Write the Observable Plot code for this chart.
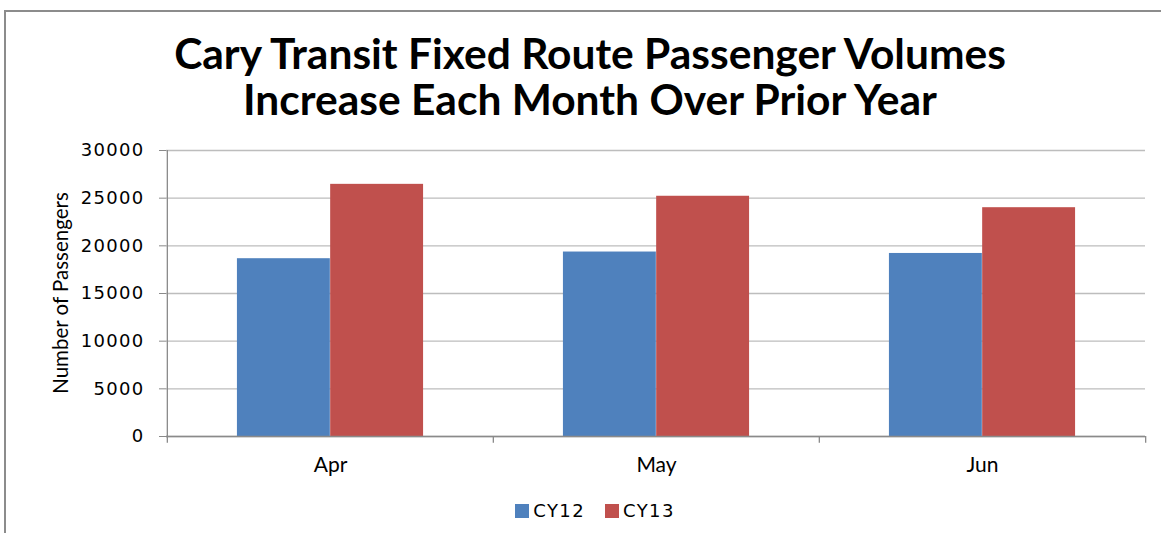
<!DOCTYPE html>
<html><head><meta charset="utf-8">
<script src="https://cdn.jsdelivr.net/npm/d3@7"></script>
<script src="https://cdn.jsdelivr.net/npm/@observablehq/plot@0.6"></script>
<style>
body{margin:0;background:#fff;}
#wrap{position:relative;width:1161px;height:533px;overflow:hidden;background:#fff;}
#frame{position:absolute;left:4px;top:10px;width:1300px;height:700px;border-left:2px solid #8c8c8c;border-top:2px solid #8c8c8c;}
#title{position:absolute;left:0;width:1180px;top:30px;text-align:center;font-family:Lato,sans-serif;font-weight:bold;font-size:42.5px;line-height:46px;color:#000;}
#chart{position:absolute;left:0;top:130px;}
#ylabel{position:absolute;left:60px;top:293px;transform:translate(-50%,-50%) rotate(-90deg);white-space:nowrap;font-family:Lato,sans-serif;font-size:20.5px;color:#000;}
#legend{position:absolute;top:500px;left:0;width:1190px;display:flex;justify-content:center;align-items:center;font-family:"DejaVu Sans",sans-serif;font-size:18px;letter-spacing:1.4px;color:#000;}
#legend .sw{display:inline-block;width:14px;height:14px;margin-right:4px;}
#legend .it{display:flex;align-items:center;margin:0 10px;}
#chart [aria-label="y-axis tick label"] text{letter-spacing:1.3px;}
</style>
</head><body>
<div id="wrap">
  <div id="frame"></div>
  <div id="title">Cary Transit Fixed Route Passenger Volumes<br>Increase Each Month Over Prior Year</div>
  <div id="chart"></div>
  <div id="ylabel">Number of Passengers</div>
  <div id="legend"></div>
</div>
<script>
const months = ["Apr", "May", "Jun"];
const seriesNames = ["CY12", "CY13"];
const cy12 = [18650, 19350, 19200];
const cy13 = [26450, 25200, 24000];
const yTicks = [0, 5000, 10000, 15000, 20000, 25000, 30000];
const colors = ["#4f81bd", "#c0504d"];

const rows = months.flatMap((m, i) => [
  {month: m, series: "CY12", value: cy12[i]},
  {month: m, series: "CY13", value: cy13[i]}
]);

const W = 1161, H = 350, mL = 166, mR = 16, mT = 20, mB = 44;
const step = (W - mL - mR) / months.length;
const b = step / 3.5; // Excel gap width 150%

const plot = Plot.plot({
  width: W, height: H,
  marginLeft: mL, marginRight: mR, marginTop: mT, marginBottom: mB,
  x: {type: "band", domain: months, padding: 0, label: null},
  y: {domain: [0, 30000], label: null},
  style: {background: "transparent"},
  marks: [
    Plot.gridY(yTicks, {stroke: "#bdbdbd", strokeOpacity: 1, strokeWidth: 1.3}),
    Plot.barY(rows.filter(d => d.series === "CY12"), {x: "month", y: "value", fill: colors[0], insetLeft: 0.75 * b, insetRight: step - 1.75 * b}),
    Plot.barY(rows.filter(d => d.series === "CY13"), {x: "month", y: "value", fill: colors[1], insetLeft: 1.75 * b, insetRight: 0.75 * b}),
    Plot.ruleY([0], {stroke: "#8a8a8a", strokeWidth: 1.3}),
    Plot.ruleX(months, {x: d => d, dx: -step / 2, y1: -720, y2: 0, stroke: "#8a8a8a", strokeWidth: 1.3}),
    Plot.ruleX([months[0]], {x: d => d, dx: -step / 2, y1: 0, y2: 30000, stroke: "#8a8a8a", strokeWidth: 1.3}),
    Plot.ruleX([months[months.length - 1]], {x: d => d, dx: step / 2, y1: -720, y2: 0, stroke: "#8a8a8a", strokeWidth: 1.3}),
    Plot.axisY(yTicks, {tickSize: 7, tickPadding: 15, tickFormat: d => String(d), stroke: "#8a8a8a", fontSize: 18, fontFamily: "DejaVu Sans", fill: "#000", label: null}),
    Plot.axisX({tickSize: 0, tickPadding: 21, fontSize: 21, fontFamily: "Lato", fill: "#000", label: null})
  ]
});
document.getElementById("chart").appendChild(plot);

const leg = document.getElementById("legend");
seriesNames.forEach((s, i) => {
  const it = document.createElement("span");
  it.className = "it";
  it.innerHTML = `<span class="sw" style="background:${colors[i]}"></span><span>${s}</span>`;
  leg.appendChild(it);
});
</script>
</body></html>
